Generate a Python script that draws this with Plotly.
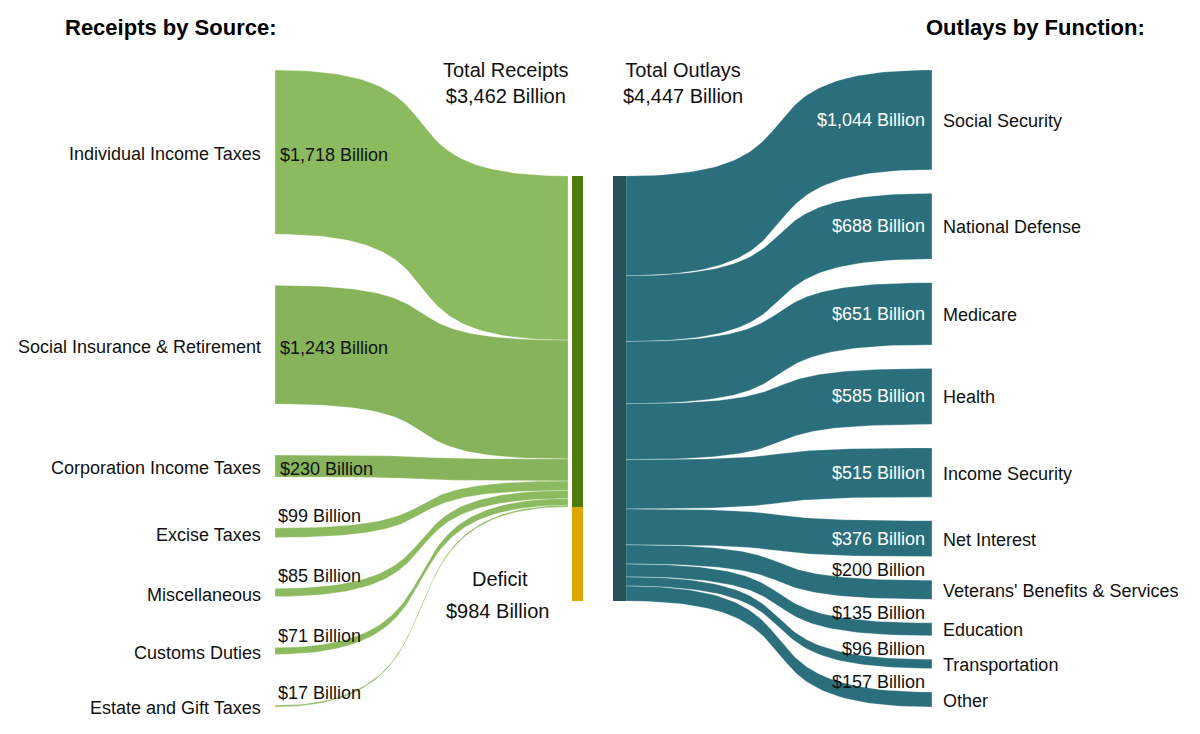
import numpy as np
import plotly.graph_objects as go

# ---------------- data ----------------
receipt_sources = ["Individual Income Taxes", "Social Insurance & Retirement",
                   "Corporation Income Taxes", "Excise Taxes", "Miscellaneous",
                   "Customs Duties", "Estate and Gift Taxes"]
receipt_values = [1718, 1243, 230, 99, 85, 71, 17]

outlay_functions = ["Social Security", "National Defense", "Medicare", "Health",
                    "Income Security", "Net Interest", "Veterans' Benefits & Services",
                    "Education", "Transportation", "Other"]
outlay_values = [1044, 688, 651, 585, 515, 376, 200, 135, 96, 157]

total_receipts = 3462
total_outlays = 4447
deficit = 984

# ---------------- layout / style ----------------
W, H = 1200, 734
PAGE_MARGIN = 8                # default body margin of the page
FONT = "Liberation Sans, Arial, sans-serif"
X_L0, X_L1 = 275, 568          # left flows
GBAR = (572, 583)              # receipts / deficit bar
TBAR = (613, 626)              # outlays bar
X_R1 = 932                     # right flows end
Y_TOP, Y_BOT = 70, 707
CURV = 0.72
K = 0.0956                     # px per billion

LIGHT_G = "#8cba5e"
DARK_G = "#87b35a"
left_colors = [LIGHT_G, DARK_G, DARK_G, LIGHT_G, LIGHT_G, LIGHT_G, LIGHT_G]
BAR_GREEN = "#4e7b0c"
BAR_ORANGE = "#e1a500"
TEAL = "#2a6f7b"
TEAL_BAR = "#28525a"
TXT = "#111111"

center = (Y_TOP + Y_BOT) / 2
mid_h = total_outlays * K
mid_top = center - mid_h / 2


def bezier(x0, x1, y0, y1, n=80):
    t = np.linspace(0, 1, n)
    dx = x1 - x0
    px = [x0, x0 + dx * CURV, x1 - dx * CURV, x1]
    py = [y0, y0, y1, y1]
    b = [(1 - t) ** 3, 3 * (1 - t) ** 2 * t, 3 * (1 - t) * t ** 2, t ** 3]
    xs = sum(bi * p for bi, p in zip(b, px))
    ys = sum(bi * p for bi, p in zip(b, py))
    return xs, ys


def band(x0, x1, a_top, a_bot, b_top, b_bot):
    xt, yt = bezier(x0, x1, a_top, b_top)
    xb, yb = bezier(x0, x1, a_bot, b_bot)
    xs = np.concatenate([xt, xb[::-1], [xt[0]]])
    ys = np.concatenate([yt, yb[::-1], [yt[0]]])
    return xs, ys


def rect(x0, x1, y0, y1):
    return [x0, x1, x1, x0, x0], [y0, y0, y1, y1, y0]


fig = go.Figure()
annotations = []

# ---------- left: receipts ----------
n_l = len(receipt_values)
gap_l = (Y_BOT - Y_TOP - sum(receipt_values) * K) / (n_l - 1)
y_left = Y_TOP
y_mid = mid_top
for name, v, col in zip(receipt_sources, receipt_values, left_colors):
    h = v * K
    xs, ys = band(X_L0, X_L1, y_left, y_left + h, y_mid, y_mid + h)
    fig.add_trace(go.Scatter(x=xs, y=ys, mode="lines", fill="toself", fillcolor=col,
                             line=dict(color="rgba(255,255,255,0.45)", width=0.6),
                             hoverinfo="skip", showlegend=False))
    c = y_left + h / 2
    annotations.append(dict(x=X_L0 - 12, y=c + 2, text=name, xanchor="right",
                            yanchor="middle", font=dict(size=18, color=TXT)))
    if v >= 200:
        annotations.append(dict(x=X_L0 + 3, y=c + 3, text=f"${v:,} Billion",
                                xanchor="left", yanchor="middle",
                                font=dict(size=18, color=TXT)))
    else:
        annotations.append(dict(x=X_L0 + 1, y=y_left - 12, text=f"${v:,} Billion",
                                xanchor="left", yanchor="middle",
                                font=dict(size=18, color=TXT)))
    y_left += h + gap_l
    y_mid += h

# receipts / deficit bar
rec_sum = sum(receipt_values) * K
xs, ys = rect(GBAR[0], GBAR[1], mid_top, mid_top + rec_sum)
fig.add_trace(go.Scatter(x=xs, y=ys, mode="lines", fill="toself", fillcolor=BAR_GREEN,
                         line=dict(width=0), hoverinfo="skip", showlegend=False))
xs, ys = rect(GBAR[0], GBAR[1], mid_top + rec_sum, mid_top + rec_sum + deficit * K)
fig.add_trace(go.Scatter(x=xs, y=ys, mode="lines", fill="toself", fillcolor=BAR_ORANGE,
                         line=dict(width=0), hoverinfo="skip", showlegend=False))

# ---------- right: outlays ----------
n_r = len(outlay_values)
gap_r = (Y_BOT - Y_TOP - sum(outlay_values) * K) / (n_r - 1)
y_right = Y_TOP
y_mid = mid_top
for name, v in zip(outlay_functions, outlay_values):
    h = v * K
    xs, ys = band(TBAR[1], X_R1, y_mid, y_mid + h, y_right, y_right + h)
    fig.add_trace(go.Scatter(x=xs, y=ys, mode="lines", fill="toself", fillcolor=TEAL,
                             line=dict(color="rgba(255,255,255,0.45)", width=0.6),
                             hoverinfo="skip", showlegend=False))
    c = y_right + h / 2
    annotations.append(dict(x=X_R1 + 9, y=c + 1, text=name, xanchor="left",
                            yanchor="middle", font=dict(size=18, color=TXT)))
    if v >= 300:
        annotations.append(dict(x=X_R1 - 5, y=c, text=f"${v:,} Billion",
                                xanchor="right", yanchor="middle",
                                font=dict(size=18, color="white")))
    else:
        annotations.append(dict(x=X_R1 - 5, y=y_right - 10, text=f"${v:,} Billion",
                                xanchor="right", yanchor="middle",
                                font=dict(size=18, color=TXT)))
    y_right += h + gap_r
    y_mid += h

xs, ys = rect(TBAR[0], TBAR[1], mid_top, mid_top + mid_h)
fig.add_trace(go.Scatter(x=xs, y=ys, mode="lines", fill="toself", fillcolor=TEAL_BAR,
                         line=dict(width=0), hoverinfo="skip", showlegend=False))

# ---------- titles and totals ----------
annotations += [
    dict(x=63, y=27, text="<b>Receipts by Source:</b>", xanchor="left", yanchor="middle",
         font=dict(size=22, color="#000")),
    dict(x=1147, y=27, text="<b>Outlays by Function:</b>", xanchor="right",
         yanchor="middle", font=dict(size=22, color="#000")),
    dict(x=506, y=83, text=f"Total Receipts<br>${total_receipts:,} Billion",
         xanchor="center", yanchor="middle", font=dict(size=20, color=TXT)),
    dict(x=683, y=83, text=f"Total Outlays<br>${total_outlays:,} Billion",
         xanchor="center", yanchor="middle", font=dict(size=20, color=TXT)),
    dict(x=500, y=579, text="Deficit", xanchor="center", yanchor="middle",
         font=dict(size=20, color=TXT)),
    dict(x=497, y=611, text=f"${deficit:,} Billion", xanchor="center",
         yanchor="middle", font=dict(size=20, color=TXT)),
]
for a in annotations:
    a.update(xref="x", yref="y", showarrow=False)

# the page adds an 8px body margin: shrink the figure and offset the axes so
# that axis units equal window pixels
fig.update_layout(
    width=W - 2 * PAGE_MARGIN, height=H - 2 * PAGE_MARGIN, autosize=False,
    margin=dict(l=0, r=0, t=0, b=0),
    paper_bgcolor="white", plot_bgcolor="white",
    font=dict(family=FONT),
    xaxis=dict(range=[PAGE_MARGIN, W - PAGE_MARGIN], visible=False, fixedrange=True),
    yaxis=dict(range=[H - PAGE_MARGIN, PAGE_MARGIN], visible=False, fixedrange=True),
    annotations=annotations,
    showlegend=False,
)

fig.write_html("out.html")
